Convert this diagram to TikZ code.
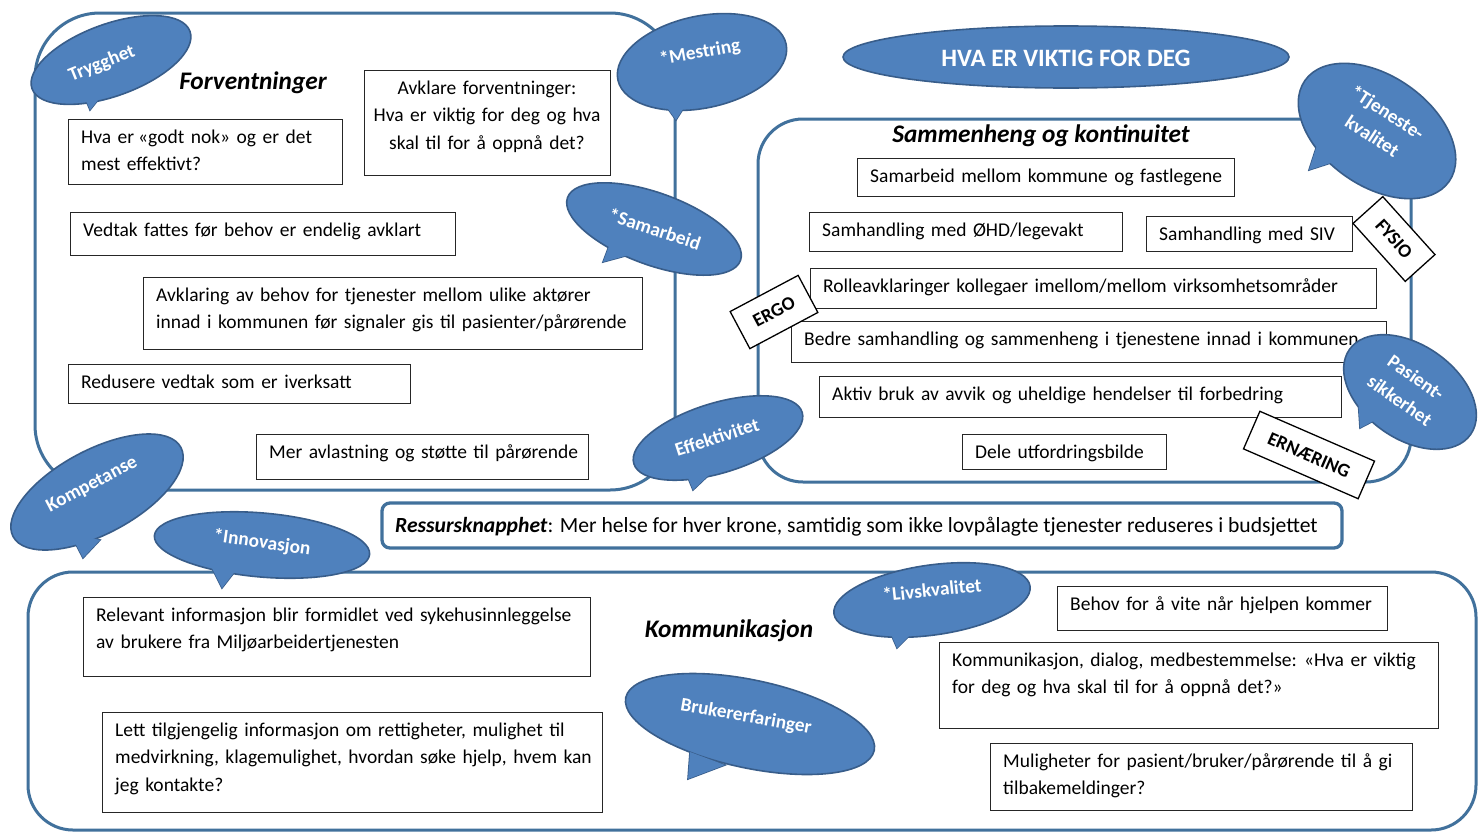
\documentclass[tikz,border=0pt]{standalone}
\usepackage{fontspec}
\setmainfont{Carlito}
\definecolor{bubfill}{HTML}{4F81BD}
\definecolor{bubline}{HTML}{385D8A}
\definecolor{frameblue}{HTML}{41719C}
\definecolor{boxline}{HTML}{262626}
\tikzset{
  frame/.style={draw=frameblue, line width=3pt},
  tb/.style={draw=boxline, line width=1.2pt, fill=white, inner sep=0pt},
  tbt/.style={inner sep=0pt, align=left, font=\fontsize{19.5}{27.5}\selectfont},
  tbc/.style={inner sep=0pt, align=center, font=\fontsize{19.5}{27.5}\selectfont},
  titletext/.style={inner sep=0pt, font=\fontsize{25.3}{28}\selectfont\bfseries\itshape},
  bubstyle/.style={fill=bubfill, draw=bubline, line width=1.6pt},
  bubonly/.style={fill=bubfill},
  bubtext/.style={inner sep=0pt, text=white, align=center, font=\fontsize{19.3}{28}\selectfont\bfseries},
  tagbox/.style={draw=black, fill=white, line width=1.3pt, inner sep=0pt, font=\fontsize{19}{20}\selectfont\bfseries}
}
\newcommand\myguil{\kern-2.5pt«}
\newcommand\myguir{»}
\newcommand\tbox[6]{%
  \node[tb, anchor=north west, minimum width={#4-#2}, minimum height={#5-#3}] (#1) at (#2,#3) {};
  \node[tbt, text width={#4-#2-16}, anchor=base west] (#1t) at (#2+13,#3+24) {#6};}
\newcommand\bubshape[5]{%
  \filldraw[bubstyle] #5 -- cycle;
  \filldraw[bubstyle, rotate around={#2:#1}] #1 ellipse [x radius=#3pt, y radius=#4pt];
  \fill[bubonly] #5 -- cycle;}
\begin{document}
\begin{tikzpicture}[x=1pt,y=-1pt]
\useasboundingbox[fill=white] (0,0) rectangle (1479,833);
% frames
\draw[frame, rounded corners=65pt] (35,13) rectangle (675,490);
\draw[frame, rounded corners=45pt] (758,119) rectangle (1411,482);
\draw[frame, rounded corners=45pt] (28,572) rectangle (1476,830);
\draw[frame, line width=3.3pt, rounded corners=8pt] (382,503) rectangle (1342,548);
\node[inner sep=0pt, anchor=base west, font=\fontsize{21.6}{24}\selectfont] (ress) at (395,532)
  {\textbf{\textit{Ressursknapphet}}: Mer helse for hver krone, samtidig som ikke lovpålagte tjenester reduseres i budsjettet};
% titles
\node[titletext, anchor=base] (tforv) at (253,89) {Forventninger};
\node[titletext, anchor=base] (tsamm) at (1041,142) {Sammenheng og kontinuitet};
\node[titletext, anchor=base] (tkomm) at (729,637) {Kommunikasjon};
% Forventninger boxes
\tbox{b1}{68}{119}{342}{184}{Hva er \myguil godt nok\myguir{} og er det\\mest effektivt?}
\node[tb, anchor=north west, minimum width=246, minimum height=105] (b2) at (364,70) {};
\node[tbc, text width=240pt, anchor=base] (b2t) at (487,94) {Avklare forventninger:\\Hva er viktig for deg og hva\\skal til for å oppnå det?};
\tbox{b3}{70}{212}{455}{255}{Vedtak fattes før behov er endelig avklart}
\tbox{b4}{143}{277}{642}{349}{Avklaring av behov for tjenester mellom ulike aktører\\innad i kommunen før signaler gis til pasienter/pårørende}
\tbox{b5}{68}{364}{410}{403}{Redusere vedtak som er iverksatt}
\tbox{b6}{256}{434}{588}{479}{Mer avlastning og støtte til pårørende}
% Sammenheng boxes
\tbox{s1}{857}{158}{1234}{196}{Samarbeid mellom kommune og fastlegene}
\tbox{s2}{809}{212}{1122}{251}{Samhandling med ØHD/legevakt}
\tbox{s3}{1146}{216}{1352}{251}{Samhandling med SIV}
\tbox{s4}{810}{268}{1376}{308}{Rolleavklaringer kollegaer imellom/mellom virksomhetsområder}
\tbox{s5}{791}{321}{1386}{362}{Bedre samhandling og sammenheng i tjenestene innad i kommunen}
\tbox{s6}{819}{376}{1341}{417}{Aktiv bruk av avvik og uheldige hendelser til forbedring}
\tbox{s7}{962}{434}{1166}{469}{Dele utfordringsbilde}
% Kommunikasjon boxes
\tbox{k1}{83}{597}{590}{676}{Relevant informasjon blir formidlet ved sykehusinnleggelse\\av brukere fra Miljøarbeidertjenesten}
\tbox{k2}{102}{712}{602}{812}{Lett tilgjengelig informasjon om rettigheter, mulighet til\\medvirkning, klagemulighet, hvordan søke hjelp, hvem kan\\jeg kontakte?}
\tbox{k3}{1057}{586}{1387}{630}{Behov for å vite når hjelpen kommer}
\tbox{k4}{939}{642}{1438}{728}{Kommunikasjon, dialog, medbestemmelse: \myguil Hva er viktig\\for deg og hva skal til for å oppnå det?\myguir}
\tbox{k5}{990}{743}{1412}{810}{Muligheter for pasient/bruker/pårørende til å gi\\tilbakemeldinger?}
% title ellipse
\filldraw[bubstyle] (1066,57) ellipse [x radius=223pt, y radius=31pt];
\node[inner sep=0pt, text=white, font=\fontsize{25}{28}\selectfont\bfseries] (hva) at (1066,58) {HVA ER VIKTIG FOR DEG};
% bubbles
\bubshape{(111,60)}{20}{84}{36}{(90,110) -- (80,86) -- (106,90)}
\node[bubtext, rotate=22] (trygghet) at (102,64) {Trygghet};
\bubshape{(702,62)}{12}{86}{46}{(676,120) -- (658,95) -- (690,98)}
\node[bubtext, rotate=10] (mestring) at (700,53) {*Mestring};
\bubshape{(654,229)}{-20}{92}{36}{(603,262) -- (612,238) -- (640,252)}
\node[bubtext, rotate=-18] (samarbeid) at (655,229) {*Samarbeid};
\bubshape{(1377,131)}{-35}{88}{55}{(1309,170) -- (1318,142) -- (1340,160)}
\node[bubtext, rotate=-33] (tjeneste) at (1380,124) {*Tjeneste-\\kvalitet};
\bubshape{(1410,392)}{-35}{74}{47}{(1360,428) -- (1358,398) -- (1385,415)}
\node[bubtext, rotate=-35] (pasient) at (1408,389) {Pasient-\\sikkerhet};
\bubshape{(718,438)}{17}{88}{35}{(693,490) -- (684,468) -- (712,472)}
\node[bubtext, rotate=18] (effektivitet) at (717,437) {Effektivitet};
\bubshape{(97,492)}{28}{95}{42}{(83,558) -- (70,533) -- (100,540)}
\node[bubtext, rotate=28] (kompetanse) at (92,485) {Kompetanse};
\bubshape{(262,545)}{-5}{108}{32}{(222,588) -- (208,560) -- (240,565)}
\node[bubtext, rotate=-8] (innovasjon) at (262,543) {*Innovasjon};
\bubshape{(932,600)}{8}{99}{35}{(897,648) -- (887,625) -- (915,630)}
\node[bubtext, rotate=6] (livskvalitet) at (932,590) {*Livskvalitet};
\bubshape{(750,724)}{-12}{127}{44}{(688,779) -- (690,752) -- (725,765)}
\node[bubtext, rotate=-10] (bruker) at (746,717) {Brukererfaringer};
% tags
\node[tagbox, rotate=-48, minimum width=78, minimum height=40] (fysio) at (1394,239) {FYSIO};
\node[tagbox, rotate=28, minimum width=77, minimum height=42] (ergo) at (774,312) {ERGO};
\node[tagbox, rotate=-23.5, minimum width=125, minimum height=41] (ernaering) at (1309,455) {ERNÆRING};
\end{tikzpicture}
\end{document}
